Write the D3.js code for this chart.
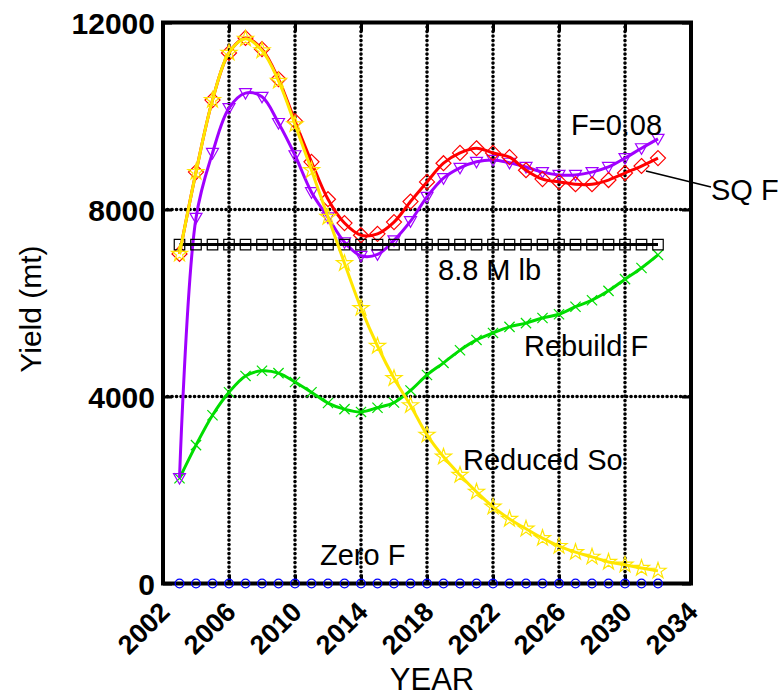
<!DOCTYPE html>
<html>
<head>
<meta charset="utf-8">
<script src="https://cdn.jsdelivr.net/npm/d3@7"></script>
<style>
  html, body { margin: 0; padding: 0; background: #fff; }
  svg { display: block; font-family: "Liberation Sans", Arial, sans-serif; }
</style>
</head>
<body>
<svg id="chart" width="778" height="698"></svg>
<script>
// Projection years and yields (mt) for each harvest scenario
const years = d3.range(2003, 2033);

const sqF        = [7050, 8800, 10340, 11350, 11670, 11430, 10790, 9890, 9020, 8220,
                    7710, 7450, 7480, 7730, 8170, 8590, 8990, 9210, 9310, 9210,
                    9120, 8840, 8650, 8590, 8540, 8540, 8630, 8780, 8930, 9100];
const f008       = [2255, 7820, 9210, 10170, 10490, 10410, 9850, 9160, 8370, 7830,
                    7300, 7010, 7040, 7340, 7750, 8270, 8670, 8890, 9020, 9060,
                    9000, 8910, 8800, 8740, 8740, 8800, 8910, 9100, 9310, 9510];
const reducedSo  = [7050, 8800, 10340, 11350, 11650, 11400, 10750, 9820, 8840, 7840,
                    6850, 5890, 5080, 4390, 3810, 3180, 2710, 2320, 1960, 1640,
                    1380, 1170, 970, 800, 670, 570, 460, 400, 330, 270];
const rebuildF   = [2250, 2960, 3600, 4090, 4440, 4550, 4500, 4310, 4090, 3860,
                    3730, 3670, 3760, 3870, 4130, 4460, 4720, 4990, 5210, 5360,
                    5490, 5570, 5680, 5760, 5920, 6060, 6260, 6510, 6750, 7030];
const target     = years.map(() => 7250);   // 8.8 M lb reference yield
const zeroF      = years.map(() => 0);

const xTicks = [2002, 2006, 2010, 2014, 2018, 2022, 2026, 2030, 2034];
const yTicks = [0, 4000, 8000, 12000];

const svg = d3.select("#chart");
const x = d3.scaleLinear().domain([2002, 2034]).range([163, 691]);
const y = d3.scaleLinear().domain([0, 12000]).range([583.5, 22.5]);

// dotted grid
const grid = svg.append("g")
  .attr("stroke", "#000").attr("stroke-width", 3.6)
  .attr("stroke-linecap", "round").attr("stroke-dasharray", "0.1 4.4");
grid.selectAll("line.v").data(xTicks.slice(1, -1)).join("line")
  .attr("x1", d => x(d)).attr("x2", d => x(d))
  .attr("y1", y(12000)).attr("y2", y(0));
grid.selectAll("line.h").data(yTicks.slice(1, -1)).join("line")
  .attr("x1", x(2002)).attr("x2", x(2034))
  .attr("y1", d => y(d)).attr("y2", d => y(d));

// axes with inward ticks
const axB = svg.append("g").attr("transform", `translate(0,${y(0)})`)
  .call(d3.axisBottom(x).tickValues(xTicks).tickSize(-9).tickFormat(d3.format("d")));
const axT = svg.append("g").attr("transform", `translate(0,${y(12000)})`)
  .call(d3.axisTop(x).tickValues(xTicks).tickSize(-9).tickFormat(""));
const axL = svg.append("g").attr("transform", `translate(${x(2002)},0)`)
  .call(d3.axisLeft(y).tickValues(yTicks).tickSize(-9).tickFormat(d3.format("d")));
const axR = svg.append("g").attr("transform", `translate(${x(2034)},0)`)
  .call(d3.axisRight(y).tickValues(yTicks).tickSize(-9).tickFormat(""));
[axB, axT, axL, axR].forEach(a => {
  a.select(".domain").remove();
  a.selectAll(".tick line").attr("stroke", "#000").attr("stroke-width", 3);
});
axB.selectAll(".tick text")
  .attr("font-size", 27).attr("font-weight", "bold").attr("fill", "#000")
  .attr("text-anchor", "end")
  .attr("transform", "translate(8,30) rotate(-45)")
  .attr("y", 0).attr("dy", 0);
axL.selectAll(".tick text")
  .attr("font-size", 30).attr("font-weight", "bold").attr("fill", "#000")
  .attr("x", -8).attr("dy", "0.36em");

// frame
svg.append("rect")
  .attr("x", x(2002)).attr("y", y(12000))
  .attr("width", x(2034) - x(2002)).attr("height", y(0) - y(12000))
  .attr("fill", "none").attr("stroke", "#000").attr("stroke-width", 4);

// axis titles
svg.append("text").attr("x", 432).attr("y", 690).attr("text-anchor", "middle")
  .attr("font-size", 31).text("YEAR");
svg.append("text").attr("transform", "translate(41,309) rotate(-90)")
  .attr("text-anchor", "middle").attr("font-size", 30).text("Yield (mt)");

// marker shapes
const sym = (type, size) => d3.symbol().type(type).size(size)();
const triDown = s => `M${-s*0.6},${-s*0.45}L${s*0.6},${-s*0.45}L0,${s*0.6}Z`;
const series = [
  { values: zeroF,     color: "#0000ff", marker: sym(d3.symbolCircle, 60), line: false },
  { values: rebuildF,  color: "#00dd00", marker: sym(d3.symbolX, 70),      line: true },
  { values: f008,      color: "#a000ff", marker: triDown(10),              line: true },
  { values: sqF,       color: "#ff0000", marker: "M0,-7.5L7.5,0L0,7.5L-7.5,0Z", line: true },
  { values: target,    color: "#000000", marker: sym(d3.symbolSquare, 110), line: true },
  { values: reducedSo, color: "#ffe600", marker: sym(d3.symbolStar, 80),    line: true },
];

const line = d3.line().x((d, i) => x(years[i])).y(d => y(d)).curve(d3.curveCatmullRom);

series.forEach(s => {
  const g = svg.append("g");
  if (s.line) {
    g.append("path").attr("d", line(s.values)).attr("fill", "none")
      .attr("stroke", s.color).attr("stroke-width", 3);
  }
  g.selectAll("path.m").data(s.values).join("path").attr("class", "m")
    .attr("transform", (d, i) => `translate(${x(years[i])},${y(d)})`)
    .attr("d", s.marker).attr("fill", "none")
    .attr("stroke", s.color).attr("stroke-width", 1.2);
});

// scenario labels
const labels = [
  { t: "F=0.08",     x: 571, y: 135 },
  { t: "SQ F",       x: 711, y: 200 },
  { t: "8.8 M lb",   x: 438, y: 280 },
  { t: "Rebuild F",  x: 524, y: 356 },
  { t: "Reduced So", x: 463, y: 470 },
  { t: "Zero F",     x: 320, y: 565 },
];
svg.selectAll("text.lab").data(labels).join("text").attr("class", "lab")
  .attr("x", d => d.x).attr("y", d => d.y).attr("font-size", 29)
  .attr("fill", "#000").text(d => d.t);
svg.append("line").attr("x1", 646).attr("y1", 171).attr("x2", 711).attr("y2", 187)
  .attr("stroke", "#000").attr("stroke-width", 1.5);
</script>
</body>
</html>
